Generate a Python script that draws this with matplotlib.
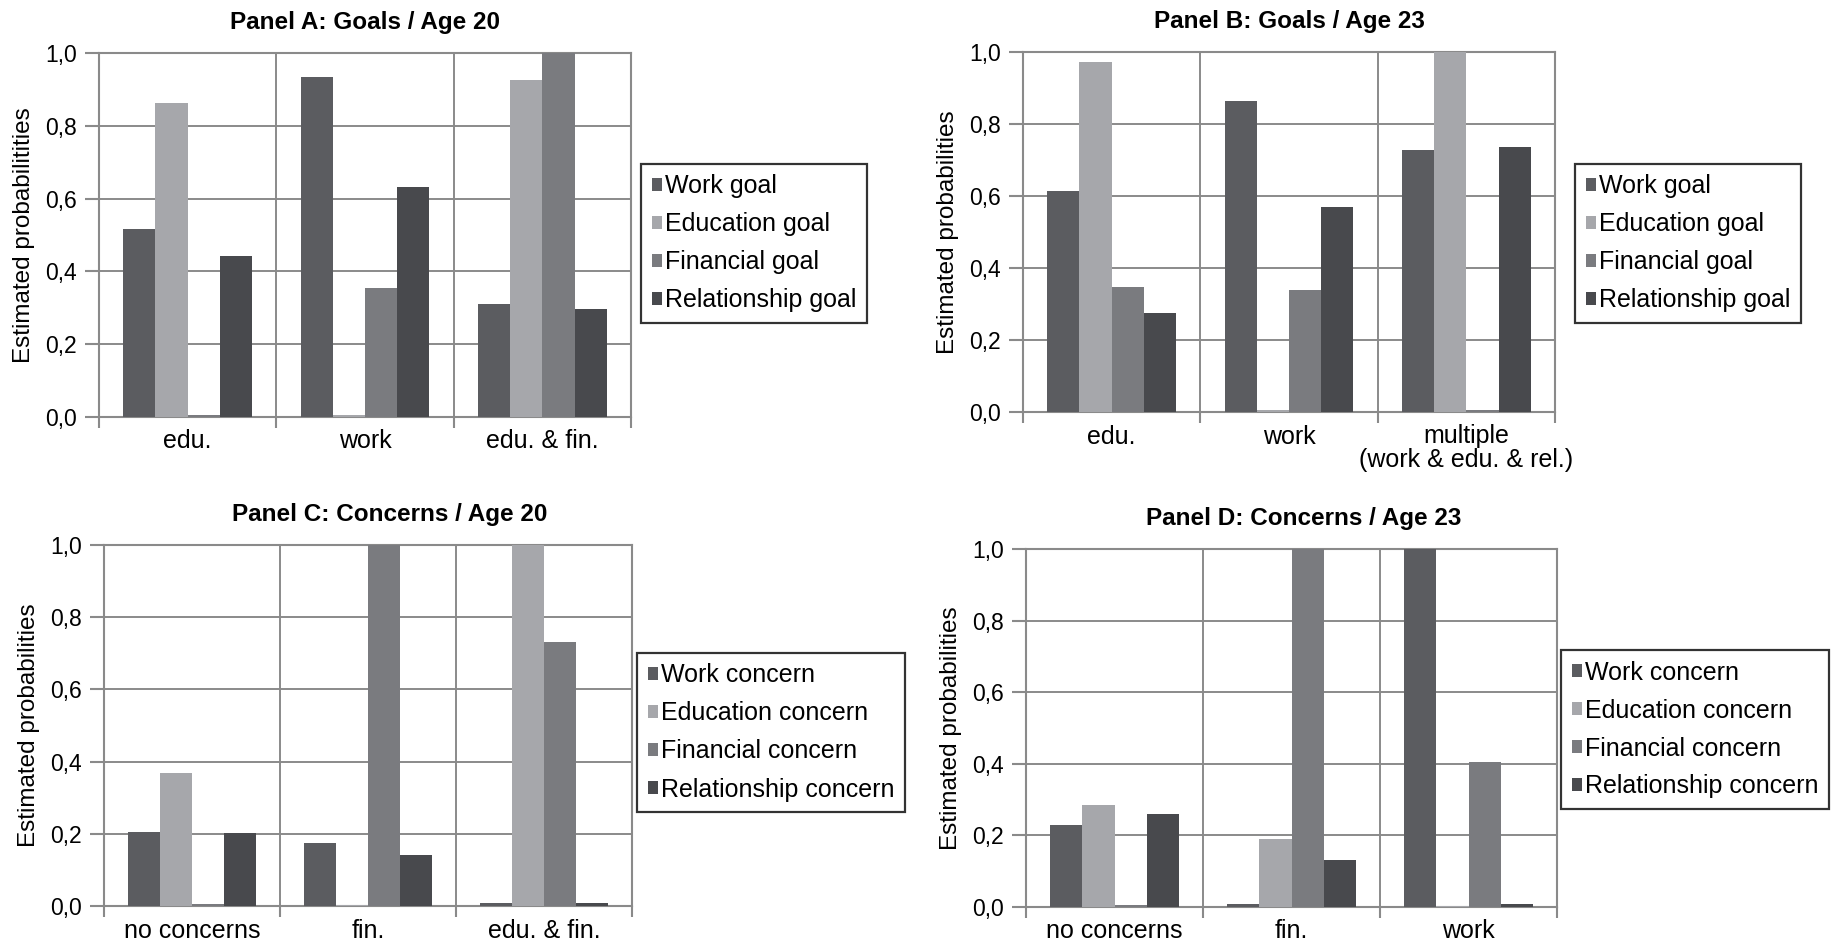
import numpy as np
import matplotlib
matplotlib.use("Agg")
import matplotlib.pyplot as plt

plt.rcParams['font.family'] = ['Liberation Sans', 'DejaVu Sans']

# ---- data -------------------------------------------------------------
goal_series = ['Work goal', 'Education goal', 'Financial goal', 'Relationship goal']
concern_series = ['Work concern', 'Education concern', 'Financial concern', 'Relationship concern']

cats_a = ['edu.', 'work', 'edu. & fin.']
work_a = [0.517, 0.933, 0.310]
edu_a = [0.864, 0.005, 0.927]
fin_a = [0.006, 0.354, 1.000]
rel_a = [0.442, 0.631, 0.298]

cats_b = ['edu.', 'work', 'multiple\n(work & edu. & rel.)']
work_b = [0.614, 0.864, 0.728]
edu_b = [0.972, 0.005, 1.000]
fin_b = [0.348, 0.340, 0.006]
rel_b = [0.276, 0.570, 0.736]

cats_c = ['no concerns', 'fin.', 'edu. & fin.']
work_c = [0.204, 0.174, 0.007]
edu_c = [0.369, 0.004, 1.000]
fin_c = [0.005, 1.000, 0.731]
rel_c = [0.201, 0.141, 0.007]

cats_d = ['no concerns', 'fin.', 'work']
work_d = [0.229, 0.007, 1.000]
edu_d = [0.286, 0.189, 0.004]
fin_d = [0.005, 1.000, 0.404]
rel_d = [0.261, 0.132, 0.007]

y_ticks = [0.0, 0.2, 0.4, 0.6, 0.8, 1.0]

# ---- style ------------------------------------------------------------
colors = ['#5b5c60', '#a6a7ab', '#7a7b7f', '#48494d']
grid_color = '#8a8a8a'
TICK_FS = 16.5
CAT_FS = 18
TITLE_FS = 17.5
LABEL_FS = 17.5
LEG_FS = 18

W, H = 1836.0, 944.0
fig = plt.figure(figsize=(W / 100, H / 100), dpi=100)


def rect(l, r, t, b):
    return [l / W, 1 - b / H, (r - l) / W, (b - t) / H]


def panel(box, title, cats, series, names, ylabel, legend_xy, title_dx=0.0):
    ax = fig.add_axes(rect(*box))
    n = len(series)
    w = 1.0 / (n + 1.5)
    centers = np.arange(len(cats)) + 0.5
    for i, (vals, name, col) in enumerate(zip(series, names, colors)):
        offs = (i - (n - 1) / 2) * w
        ax.bar(centers + offs, vals, width=w, color=col, label=name,
               zorder=3, linewidth=0)
    ax.set_xlim(0, len(cats))
    ax.set_ylim(0, 1.0)
    ax.set_yticks(y_ticks)
    ax.set_yticklabels([f"{v:.1f}".replace('.', ',') for v in y_ticks], fontsize=TICK_FS)
    ax.set_xticks(np.arange(len(cats) + 1))
    ax.set_xticklabels([])
    ax.set_xticks(centers, minor=True)
    ax.set_xticklabels(cats, minor=True, fontsize=CAT_FS, linespacing=0.95)
    ax.tick_params(axis='x', which='minor', length=0, pad=9)
    ax.tick_params(axis='x', which='major', length=8, width=1.5, color=grid_color)
    ax.tick_params(axis='y', length=10, width=1.5, color=grid_color, pad=6)
    ax.grid(True, axis='both', which='major', color=grid_color, linewidth=1.4, zorder=0)
    ax.set_axisbelow(True)
    for s in ['left', 'bottom', 'right', 'top']:
        ax.spines[s].set_color(grid_color)
        ax.spines[s].set_linewidth(1.5)
    # chart title is centred over the whole chart block (plot + legend)
    width_px = box[1] - box[0]
    ax.set_title(title, fontsize=TITLE_FS, fontweight='bold', pad=17,
                 x=0.5 + title_dx / width_px)
    ax.set_ylabel(ylabel, fontsize=LABEL_FS, labelpad=7)
    leg = ax.legend(loc='upper left', bbox_to_anchor=legend_xy,
                    bbox_transform=fig.transFigure, fontsize=LEG_FS,
                    frameon=True, fancybox=False, edgecolor='black',
                    handlelength=0.42, handleheight=0.42, handletextpad=0.12,
                    labelspacing=0.56, borderpad=0.42, borderaxespad=0)
    leg.get_frame().set_linewidth(1.6)
    return ax


panel((99, 631, 53, 417), 'Panel A: Goals / Age 20', cats_a,
      [work_a, edu_a, fin_a, rel_a], goal_series, 'Estimated probabilitities',
      (641 / W, 1 - 164 / H))
panel((1023, 1555, 52, 412), 'Panel B: Goals / Age 23', cats_b,
      [work_b, edu_b, fin_b, rel_b], goal_series, 'Estimated probabilities',
      (1575 / W, 1 - 164 / H))
panel((104, 632, 545, 906), 'Panel C: Concerns / Age 20', cats_c,
      [work_c, edu_c, fin_c, rel_c], concern_series, 'Estimated probabilities',
      (637 / W, 1 - 653 / H), title_dx=22)
panel((1026, 1557, 549, 907), 'Panel D: Concerns / Age 23', cats_d,
      [work_d, edu_d, fin_d, rel_d], concern_series, 'Estimated probabilities',
      (1561 / W, 1 - 650 / H), title_dx=12)

fig.savefig('out.png', dpi=100, facecolor='white')
